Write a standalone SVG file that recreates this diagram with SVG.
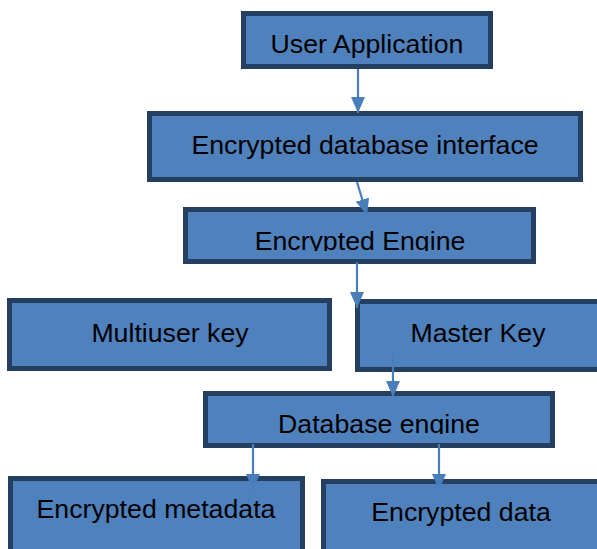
<svg xmlns="http://www.w3.org/2000/svg" width="597" height="549" viewBox="0 0 597 549">
<style>
.box{fill:#4F81BD;stroke:#243F60;stroke-width:5}
.t{font-family:"Liberation Sans",Arial,sans-serif;font-size:26.7px;fill:#000;text-anchor:middle}
.c{stroke:#4A7EBB;stroke-width:2.2;fill:none;marker-end:url(#ah)}
</style>
<defs>
<marker id="ah" viewBox="0 0 10 10" refX="10" refY="5" markerWidth="16" markerHeight="14" markerUnits="userSpaceOnUse" orient="auto" preserveAspectRatio="none">
<path d="M0,0 L10,5 L0,10 z" fill="#4A7EBB"/>
</marker>
<clipPath id="cl1"><rect x="0" y="0" width="597" height="251"/></clipPath>
<clipPath id="cl2"><rect x="0" y="0" width="597" height="434"/></clipPath>
</defs>
<rect width="597" height="549" fill="#fff"/>
<g id="user-app"><rect class="box" x="243.5" y="13.5" width="247" height="53"/><text class="t" x="367" y="53">User Application</text></g>
<g id="db-interface"><rect class="box" x="149.5" y="113.5" width="431" height="66"/><text class="t" x="365" y="154">Encrypted database interface</text></g>
<g id="enc-engine"><rect class="box" x="185.5" y="209.5" width="348" height="52"/><text class="t" x="360" y="250" clip-path="url(#cl1)">Encrypted Engine</text></g>
<g id="multiuser-key"><rect class="box" x="9.5" y="300.5" width="320" height="68"/><text class="t" x="170" y="342">Multiuser key</text></g>
<g id="master-key"><rect class="box" x="357.5" y="301.5" width="245" height="68"/><text class="t" x="478" y="342">Master Key</text></g>
<g id="db-engine"><rect class="box" x="205.5" y="393.5" width="347" height="52"/><text class="t" x="379" y="433" clip-path="url(#cl2)">Database engine</text></g>
<g id="enc-metadata"><rect class="box" x="10.5" y="478.5" width="292" height="75"/><text class="t" x="156" y="518">Encrypted metadata</text></g>
<g id="enc-data"><rect class="box" x="323.5" y="481.5" width="280" height="75"/><text class="t" x="461" y="521">Encrypted data</text></g>
<g id="connectors">
<line class="c" x1="358" y1="69" x2="358" y2="113"/>
<line class="c" x1="357" y1="182" x2="367" y2="215"/>
<line class="c" x1="357" y1="262" x2="357" y2="308"/>
<line class="c" x1="393" y1="353" x2="393" y2="397"/>
<line class="c" x1="253" y1="444" x2="253" y2="490"/>
<line class="c" x1="439" y1="444" x2="439" y2="490"/>
</g>
</svg>
